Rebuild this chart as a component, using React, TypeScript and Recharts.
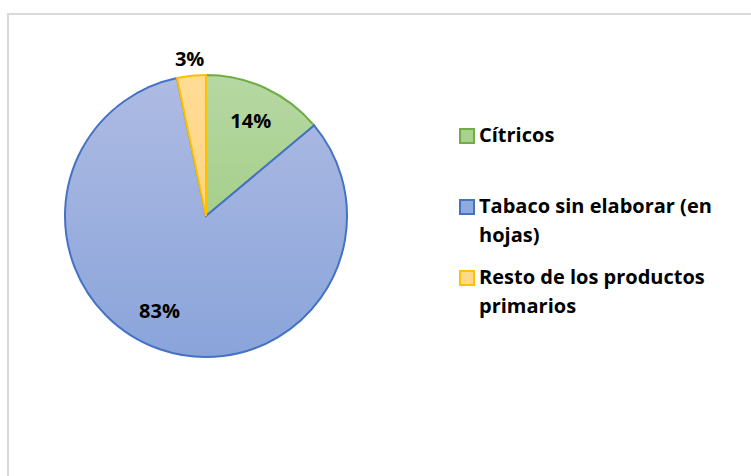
import React from 'react';
import { PieChart, Pie, Cell, Legend } from 'recharts';

const categories = ['Cítricos', 'Tabaco sin elaborar (en hojas)', 'Resto de los productos primarios'];
const values = [13.9, 82.8, 3.3];
const fills = ['url(#gGreen)', 'url(#gBlue)', 'url(#gYellow)'];
const strokes = ['#70ad47', '#4472c4', '#ffc000'];
const swatchFills = ['#a9d18e', '#8faadc', '#ffd98a'];
const legendLines = [['Cítricos'], ['Tabaco sin elaborar (en', 'hojas)'], ['Resto de los productos', 'primarios']];

const data = categories.map((name, i) => ({ name, value: values[i] }));

const FONT = '"Open Sans", Lato, sans-serif';
const RADIAN = Math.PI / 180;

const renderLabel = (props: any) => {
  const { cx, cy, midAngle, outerRadius, percent, index } = props;
  let r = outerRadius * 0.75;
  let ang = midAngle;
  if (index === 2) r = outerRadius + 17;
  if (index === 1) ang = midAngle - 7;
  const x = cx + r * Math.cos(-ang * RADIAN);
  const y = cy + r * Math.sin(-ang * RADIAN);
  return (
    <text x={x} y={y} textAnchor="middle" dominantBaseline="central" fill="#000" fontFamily={FONT} fontWeight={700} fontSize={20}>
      {`${Math.round(percent * 100)}%`}
    </text>
  );
};

const renderLegend = () => {
  const tops = [126, 197, 268];
  return (
    <div style={{ position: 'relative', width: 290, height: 320 }}>
      {legendLines.map((lines, i) => (
        <div key={i} style={{ position: 'absolute', left: 0, top: tops[i] - 110, display: 'flex', alignItems: 'flex-start' }}>
          <div style={{ width: 12, height: 12, background: swatchFills[i], border: `2px solid ${strokes[i]}`, marginTop: 2, marginRight: 4, boxSizing: 'content-box' }} />
          <div style={{ fontFamily: FONT, fontWeight: 700, fontSize: 20, lineHeight: '29px', color: '#000', marginTop: -6, whiteSpace: 'nowrap' }}>
            {lines.map((l, j) => <div key={j}>{l}</div>)}
          </div>
        </div>
      ))}
    </div>
  );
};

export default function App() {
  return (
    <div>
      <div style={{ position: 'absolute', left: 7, top: 13, width: 744, height: 463, borderLeft: '2px solid #d9d9d9', borderTop: '2px solid #d9d9d9', boxSizing: 'border-box', background: '#fff' }} />
      <div style={{ position: 'absolute', left: 0, top: 0 }}>
        <PieChart width={751} height={476} margin={{ top: 0, right: 0, bottom: 0, left: 0 }}>
          <defs>
            <linearGradient id="gGreen" x1="0" y1="0" x2="0" y2="1">
              <stop offset="0%" stopColor="#b6d8a3" />
              <stop offset="100%" stopColor="#a6cf8b" />
            </linearGradient>
            <linearGradient id="gBlue" x1="0" y1="0" x2="0" y2="1">
              <stop offset="0%" stopColor="#aebbe3" />
              <stop offset="100%" stopColor="#8aa4da" />
            </linearGradient>
            <linearGradient id="gYellow" x1="0" y1="0" x2="0" y2="1">
              <stop offset="0%" stopColor="#ffdc95" />
              <stop offset="100%" stopColor="#ffd582" />
            </linearGradient>
          </defs>
          <Pie
            data={data}
            dataKey="value"
            nameKey="name"
            cx={206}
            cy={216}
            outerRadius={141}
            startAngle={90}
            endAngle={-270}
            isAnimationActive={false}
            label={renderLabel}
            labelLine={false}
          >
            {data.map((d, i) => (
              <Cell key={i} fill={fills[i]} stroke={strokes[i]} strokeWidth={2} />
            ))}
          </Pie>
          <Legend
            layout="vertical"
            content={renderLegend}
            wrapperStyle={{ position: 'absolute', left: 459, top: 110, width: 290 }}
          />
        </PieChart>
      </div>
    </div>
  );
}
